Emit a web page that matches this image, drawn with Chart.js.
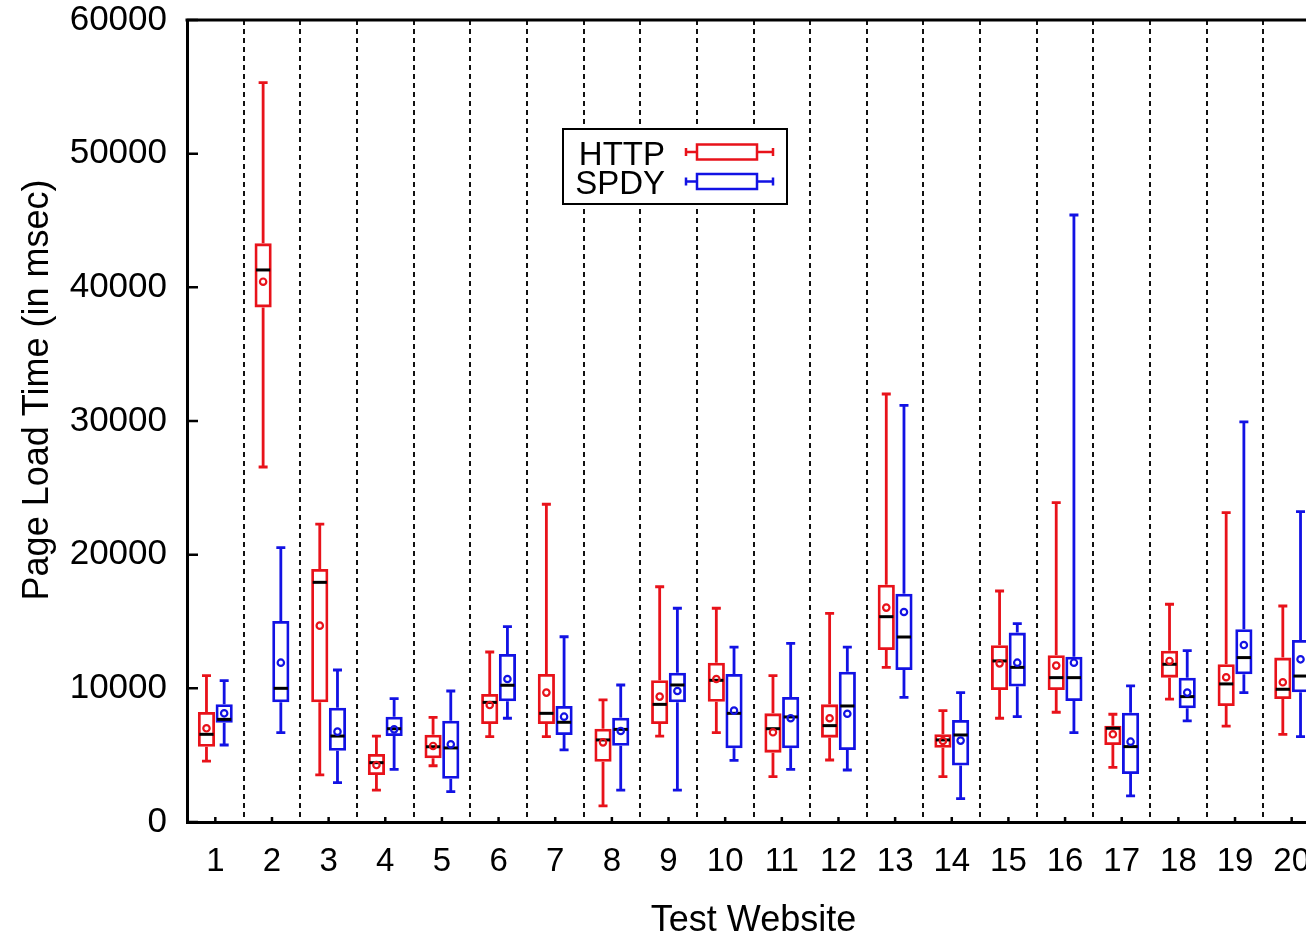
<!DOCTYPE html>
<html>
<head>
<meta charset="utf-8">
<title>Page Load Time: HTTP vs SPDY</title>
<script src="https://cdn.jsdelivr.net/npm/chart.js@4/dist/chart.umd.min.js"></script>
<style>
  html, body { margin: 0; padding: 0; background: #fff; overflow: hidden; }
  #wrap { width: 1306px; height: 939px; overflow: hidden; }
  canvas { display: block; }
</style>
</head>
<body>
<div id="wrap"><canvas id="chart" width="1334" height="939"></canvas></div>
<script>
// ---- data (page load time in msec per test website) ----
const websites = ['1','2','3','4','5','6','7','8','9','10','11','12','13','14','15','16','17','18','19','20'];
const yTicks = [0, 10000, 20000, 30000, 40000, 50000, 60000];

const httpMin    = [4560, 26560, 3520, 2390, 4210, 6380, 6380, 1200, 6430, 6680, 3390, 4640, 11570, 3390, 7760, 8210, 4090, 9200, 7180, 6560];
const httpQ1     = [5630, 38500, 8950, 3520, 4760, 7330, 7330, 4510, 7330, 9000, 5190, 6310, 12870, 5560, 9880, 9880, 5760, 10800, 8680, 9200];
const httpMedian = [6560, 41300, 17930, 4440, 5630, 8950, 8130, 6140, 8800, 10600, 6980, 7210, 15360, 6140, 12050, 10800, 7010, 11800, 10330, 9930];
const httpMean   = [7010, 40420, 14690, 4260, 5690, 8750, 9680, 5960, 9380, 10700, 6710, 7760, 16040, 6060, 11870, 11700, 6560, 12050, 10830, 10450];
const httpQ3     = [8230, 43290, 18930, 5090, 6530, 9580, 11070, 6980, 10600, 11920, 8130, 8800, 17750, 6560, 13220, 12470, 7210, 12820, 11800, 12300];
const httpMax    = [10950, 55310, 22290, 6430, 7830, 12720, 23770, 9130, 17600, 15990, 10950, 15610, 32020, 8330, 17280, 23890, 8060, 16290, 23140, 16160];

const spdyMin    = [5760, 6680, 2940, 3940, 2270, 7760, 5390, 2390, 2390, 4610, 3940, 3890, 9330, 1750, 7880, 6690, 1950, 7560, 9680, 6390];
const spdyQ1     = [7430, 8950, 5330, 6430, 3240, 9030, 6510, 5710, 8950, 5510, 5510, 5390, 11370, 4220, 10130, 9050, 3590, 8510, 11050, 9700];
const spdyMedian = [7680, 10000, 6430, 6980, 5540, 10230, 7460, 6930, 10250, 8130, 7860, 8680, 13840, 6510, 11570, 10800, 5640, 9380, 12300, 10920];
const spdyMean   = [8130, 11920, 6760, 6930, 5810, 10700, 7880, 6810, 9800, 8330, 7760, 8100, 15710, 6090, 11920, 11920, 6010, 9680, 13240, 12170];
const spdyQ3     = [8810, 15040, 8550, 7880, 7580, 12570, 8680, 7800, 11170, 11070, 9350, 11250, 17080, 7630, 14170, 12370, 8180, 10800, 14420, 13620];
const spdyMax    = [10570, 20520, 11370, 9230, 9800, 14610, 13860, 10250, 15990, 13090, 13370, 13090, 31170, 9680, 14840, 45410, 10180, 12820, 29930, 23220];

const HTTP_COLOR = 'rgb(232,18,26)';
const SPDY_COLOR = 'rgb(18,18,228)';
const FONT = "'Liberation Sans', Arial, Helvetica, sans-serif";

Chart.defaults.font.family = FONT;
Chart.defaults.color = '#000';

// Whiskers, caps, medians and means drawn on top of the floating-bar boxes
const boxPlotParts = {
  id: 'boxPlotParts',
  afterDatasetsDraw(chart) {
    const ctx = chart.ctx;
    const ys = chart.scales.y;
    ctx.save();
    ctx.lineCap = 'butt';
    chart.data.datasets.forEach((ds, di) => {
      const meta = chart.getDatasetMeta(di);
      const st = ds.stats;
      meta.data.forEach((bar, i) => {
        const x = bar.x;
        const half = bar.width / 2;
        const pMin = ys.getPixelForValue(st.min[i]);
        const pQ1 = ys.getPixelForValue(st.q1[i]);
        const pQ3 = ys.getPixelForValue(st.q3[i]);
        const pMax = ys.getPixelForValue(st.max[i]);
        const pMed = ys.getPixelForValue(st.median[i]);
        const pMean = ys.getPixelForValue(st.mean[i]);

        ctx.strokeStyle = ds.borderColor;
        ctx.lineWidth = 2.8;
        ctx.beginPath();
        ctx.moveTo(x, pQ3); ctx.lineTo(x, pMax);
        ctx.moveTo(x, pQ1); ctx.lineTo(x, pMin);
        ctx.moveTo(x - 4.5, pMax); ctx.lineTo(x + 4.5, pMax);
        ctx.moveTo(x - 4.5, pMin); ctx.lineTo(x + 4.5, pMin);
        ctx.stroke();

        ctx.strokeStyle = '#000';
        ctx.lineWidth = 3;
        ctx.beginPath();
        ctx.moveTo(x - half + 1.5, pMed); ctx.lineTo(x + half - 1.5, pMed);
        ctx.stroke();

        ctx.strokeStyle = ds.borderColor;
        ctx.lineWidth = 2.2;
        ctx.beginPath();
        ctx.arc(x, pMean, 3.2, 0, Math.PI * 2);
        ctx.stroke();
      });
    });
    ctx.restore();
  }
};

// Frame top edge, inward tick marks, rotated y title and the legend box
const frameAndLegend = {
  id: 'frameAndLegend',
  afterDraw(chart) {
    const ctx = chart.ctx;
    const area = chart.chartArea;
    const ys = chart.scales.y;
    const xs = chart.scales.x;
    ctx.save();

    // top frame line
    ctx.strokeStyle = '#000';
    ctx.lineWidth = 3;
    ctx.beginPath();
    ctx.moveTo(area.left - 1.5, area.top);
    ctx.lineTo(area.right, area.top);
    ctx.stroke();

    // y ticks pointing into the plot
    ctx.lineWidth = 2.5;
    ctx.beginPath();
    ys.ticks.forEach(t => {
      const py = ys.getPixelForValue(t.value);
      ctx.moveTo(area.left, py);
      ctx.lineTo(area.left + 11, py);
    });
    // x ticks pointing into the plot
    websites.forEach((_, i) => {
      const px = xs.getPixelForValue(i);
      ctx.moveTo(px, area.bottom);
      ctx.lineTo(px, area.bottom - 5);
    });
    ctx.stroke();

    // y axis title
    ctx.save();
    ctx.translate(38, 390);
    ctx.rotate(-Math.PI / 2);
    ctx.font = '36px ' + FONT;
    ctx.fillStyle = '#000';
    ctx.textAlign = 'center';
    ctx.textBaseline = 'middle';
    ctx.fillText('Page Load Time (in msec)', 0, 0);
    ctx.restore();

    // legend
    const lx = 563, ly = 129, lw = 224, lh = 75;
    ctx.fillStyle = '#fff';
    ctx.fillRect(lx, ly, lw, lh);
    ctx.strokeStyle = '#000';
    ctx.lineWidth = 2;
    ctx.strokeRect(lx, ly, lw, lh);

    chart.data.datasets.forEach((ds, r) => {
      const cy = 152 + r * 29.5;
      ctx.fillStyle = '#000';
      ctx.font = '33px ' + FONT;
      ctx.textAlign = 'right';
      ctx.textBaseline = 'alphabetic';
      ctx.fillText(ds.label, 665, cy + 12.5);

      ctx.strokeStyle = ds.borderColor;
      ctx.lineWidth = 2.5;
      ctx.beginPath();
      ctx.moveTo(686, cy); ctx.lineTo(697, cy);
      ctx.moveTo(757, cy); ctx.lineTo(773, cy);
      ctx.moveTo(686, cy - 4); ctx.lineTo(686, cy + 4);
      ctx.moveTo(773, cy - 4); ctx.lineTo(773, cy + 4);
      ctx.stroke();
      ctx.strokeRect(697, cy - 7.5, 60, 15);
    });

    ctx.restore();
  }
};

new Chart(document.getElementById('chart'), {
  type: 'bar',
  data: {
    labels: websites,
    datasets: [
      {
        label: 'HTTP',
        data: websites.map((_, i) => [httpQ1[i], httpQ3[i]]),
        stats: { min: httpMin, q1: httpQ1, median: httpMedian, mean: httpMean, q3: httpQ3, max: httpMax },
        backgroundColor: 'rgba(255,255,255,0)',
        borderColor: HTTP_COLOR,
        borderWidth: 2.8,
        borderSkipped: false
      },
      {
        label: 'SPDY',
        data: websites.map((_, i) => [spdyQ1[i], spdyQ3[i]]),
        stats: { min: spdyMin, q1: spdyQ1, median: spdyMedian, mean: spdyMean, q3: spdyQ3, max: spdyMax },
        backgroundColor: 'rgba(255,255,255,0)',
        borderColor: SPDY_COLOR,
        borderWidth: 2.8,
        borderSkipped: false
      }
    ]
  },
  options: {
    responsive: false,
    animation: false,
    devicePixelRatio: 1,
    categoryPercentage: 0.625,
    barPercentage: 0.97,
    layout: { padding: { top: 0, right: 14, bottom: 0, left: 0 } },
    plugins: {
      legend: { display: false },
      tooltip: { enabled: false }
    },
    scales: {
      x: {
        offset: true,
        grid: {
          display: true,
          offset: true,
          drawTicks: false,
          color: '#111',
          lineWidth: 2
        },
        border: { display: true, color: '#000', width: 3, dash: [5, 4] },
        ticks: {
          padding: 20,
          maxRotation: 0,
          autoSkip: false,
          font: { size: 33 },
          color: '#000'
        },
        title: {
          display: true,
          text: 'Test Website',
          font: { size: 36 },
          color: '#000',
          padding: { top: 0, bottom: -4 }
        },
        afterFit(scale) {
          scale.height = 117;
          scale.paddingLeft = 0;
          scale.paddingRight = 0;
        }
      },
      y: {
        min: 0,
        max: 60000,
        afterBuildTicks(scale) { scale.ticks = yTicks.map(v => ({ value: v })); },
        grid: { display: false, drawTicks: false },
        border: { display: true, color: '#000', width: 3 },
        ticks: {
          padding: 20,
          font: { size: 35 },
          color: '#000',
          callback: v => String(v)
        },
        title: { display: false },
        afterFit(scale) {
          scale.width = 187;
          scale.paddingTop = 20;
          scale.paddingBottom = 0;
        }
      }
    }
  },
  plugins: [boxPlotParts, frameAndLegend]
});
</script>
</body>
</html>
